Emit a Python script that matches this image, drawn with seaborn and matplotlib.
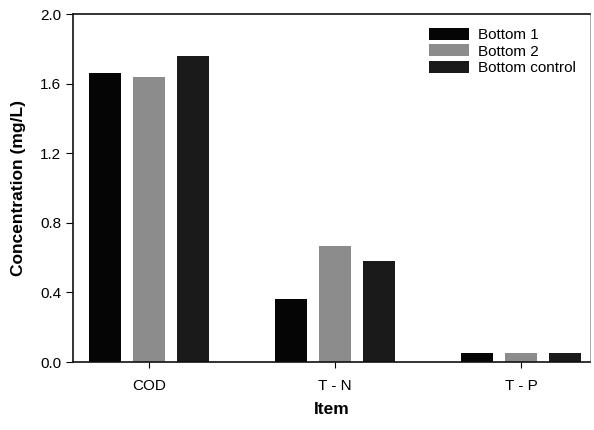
import matplotlib
matplotlib.use("Agg")
import matplotlib.pyplot as plt
import seaborn as sns
import pandas as pd

categories = ["COD", "T - N", "T - P"]
series = ["Bottom 1", "Bottom 2", "Bottom control"]
bottom1 = [1.66, 0.36, 0.05]
bottom2 = [1.64, 0.67, 0.05]
bottom_control = [1.76, 0.58, 0.05]
colors = ["#050505", "#8c8c8c", "#1a1a1a"]
yticks = [0.0, 0.4, 0.8, 1.2, 1.6, 2.0]

rows = []
for s, vals in zip(series, [bottom1, bottom2, bottom_control]):
    for c, v in zip(categories, vals):
        rows.append({"Item": c, "Series": s, "Value": v})
df = pd.DataFrame(rows)

sns.set_style("ticks")
plt.rcParams["font.family"] = ["Liberation Sans", "DejaVu Sans"]
plt.rcParams["text.color"] = "black"
plt.rcParams["axes.labelcolor"] = "black"
plt.rcParams["xtick.color"] = "black"
plt.rcParams["ytick.color"] = "black"

fig = plt.figure(figsize=(5.94, 4.30), dpi=100)
ax = fig.add_axes([0.123, 0.158, 0.870, 0.809])
sns.barplot(data=df, x="Item", y="Value", hue="Series", palette=colors,
            width=0.71, gap=0.28, ax=ax, saturation=1, edgecolor="none")

ax.set_ylim(0, 2.0)
ax.set_xlim(-0.41, 2.37)
ax.set_yticks(yticks)
ax.set_yticklabels([f"{t:.1f}" for t in yticks], fontsize=11)
ax.tick_params(axis="x", labelsize=11, length=4, direction="out", pad=8)
ax.tick_params(axis="y", length=5, direction="out")
ax.set_ylabel("Concentration (mg/L)", fontsize=12.5, fontweight="bold", labelpad=10)
ax.set_xlabel("Item", fontsize=12.5, fontweight="bold", labelpad=7)
for sp in ax.spines.values():
    sp.set_visible(True)
    sp.set_linewidth(1.2)
    sp.set_color("#111111")
ax.spines["right"].set_linewidth(0.6)
ax.spines["right"].set_color("#999999")

leg = ax.legend(loc="upper right", frameon=False, fontsize=11, handlelength=2.6,
                handleheight=0.8, labelspacing=0.15, handletextpad=0.6,
                bbox_to_anchor=(1.0, 1.0))

fig.savefig("out.png", dpi=100)
